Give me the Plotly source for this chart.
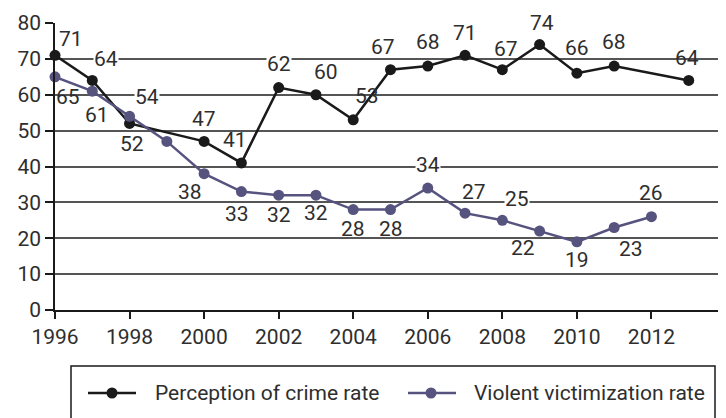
import plotly.graph_objects as go

# ---- data ----
perc_years = [1996, 1997, 1998, 2000, 2001, 2002, 2003, 2004, 2005, 2006, 2007, 2008, 2009, 2010, 2011, 2013]
perc_vals = [71, 64, 52, 47, 41, 62, 60, 53, 67, 68, 71, 67, 74, 66, 68, 64]
viol_years = [1996, 1997, 1998, 1999, 2000, 2001, 2002, 2003, 2004, 2005, 2006, 2007, 2008, 2009, 2010, 2011, 2012]
viol_vals = [65, 61, 54, 47, 38, 33, 32, 32, 28, 28, 34, 27, 25, 22, 19, 23, 26]
viol_labels = ["65", "61", "54", "", "38", "33", "32", "32", "28", "28", "34", "27", "25", "22", "19", "23", "26"]
x_ticks = [1996, 1998, 2000, 2002, 2004, 2006, 2008, 2010, 2012]
y_ticks = [0, 10, 20, 30, 40, 50, 60, 70, 80]
series_names = ["Perception of crime rate", "Violent victimization rate"]

# label offsets (pixels) relative to each point, and whether the label has a white backing
perc_off = [(16, -16), (14, -21), (2, 21), (0, -22), (-6, -23), (0, -24), (10, -23), (14, -24),
            (-8, -23), (0, -24), (0, -22), (4, -21), (2, -22), (0, -25), (0, -24), (-2, -22)]
perc_bg = [0, 1, 0, 0, 0, 1, 0, 0, 0, 0, 0, 0, 1, 0, 0, 0]
viol_off = [(13, 20), (5, 24), (17, -19), (0, 0), (-14, 18), (-4, 22), (0, 20), (0, 18), (0, 19),
            (0, 19), (0, -23), (9, -21), (15, -21), (-17, 17), (0, 18), (17, 22), (0, -24)]
viol_bg = [0, 0, 1, 0, 0, 0, 0, 0, 0, 0, 1, 0, 1, 0, 0, 0, 0]

BLACK = "#1a1a1a"
PURPLE = "#56537f"
TXT = "#2e2e2e"
FONT = "Roboto"

fig = go.Figure()
fig.add_trace(go.Scatter(x=perc_years, y=perc_vals, mode="lines+markers", name=series_names[0],
                         line=dict(color=BLACK, width=2.5), marker=dict(size=11, color=BLACK),
                         cliponaxis=False, showlegend=False))
fig.add_trace(go.Scatter(x=viol_years, y=viol_vals, mode="lines+markers", name=series_names[1],
                         line=dict(color=PURPLE, width=2.5), marker=dict(size=11, color=PURPLE),
                         cliponaxis=False, showlegend=False))

annotations = []
for x, v, (dx, dy), bg in zip(perc_years, perc_vals, perc_off, perc_bg):
    annotations.append(dict(x=x, y=v, xref="x", yref="y", text=str(v), showarrow=False,
                            xshift=dx, yshift=-dy, borderpad=0,
                            bgcolor="white" if bg else "rgba(0,0,0,0)",
                            font=dict(family=FONT, size=21, color=TXT)))
for x, v, lab, (dx, dy), bg in zip(viol_years, viol_vals, viol_labels, viol_off, viol_bg):
    if lab:
        annotations.append(dict(x=x, y=v, xref="x", yref="y", text=lab, showarrow=False,
                                xshift=dx, yshift=-dy, borderpad=0,
                                bgcolor="white" if bg else "rgba(0,0,0,0)",
                                font=dict(family=FONT, size=21, color=TXT)))

# page has an 8px body margin; figure is sized/positioned to compensate
OFF = 8
L, T_AX, W_PLOT, H_PLOT = 55, 310, 671, 287
def px(x):
    return (x - L) / W_PLOT
def py(y):
    return (T_AX - y) / H_PLOT

shapes = [
    dict(type="rect", xref="paper", yref="paper", x0=px(71), x1=px(715), y0=py(366), y1=py(430),
         line=dict(color=BLACK, width=1.5), fillcolor="rgba(0,0,0,0)"),
]
leg_y = 393
for (lx0, lx1, mx, tx), col, name in zip([(88, 136, 112, 153), (408, 456, 431, 472)],
                                         [BLACK, PURPLE], series_names):
    shapes.append(dict(type="line", xref="paper", yref="paper", x0=px(lx0), x1=px(lx1),
                       y0=py(leg_y), y1=py(leg_y), line=dict(color=col, width=2.5)))
    shapes.append(dict(type="circle", xref="paper", yref="paper", x0=px(mx - 5.5), x1=px(mx + 5.5),
                       y0=py(leg_y - 5.5), y1=py(leg_y + 5.5), fillcolor=col, line=dict(color=col, width=0)))
    annotations.append(dict(x=px(tx), y=py(leg_y), xref="paper", yref="paper", text=name,
                            showarrow=False, xanchor="left", yanchor="middle",
                            font=dict(family=FONT, size=21, color=TXT)))

fig.update_layout(
    width=726 - OFF, height=418 - OFF,
    margin=dict(l=L - OFF, r=0, t=23 - OFF, b=108),
    paper_bgcolor="white", plot_bgcolor="white",
    font=dict(family=FONT, size=21, color=TXT),
    showlegend=False,
    xaxis=dict(range=[1996, 2014], tickvals=x_ticks, ticktext=[str(t) for t in x_ticks],
               showgrid=False, zeroline=False, showline=True, linecolor=BLACK, linewidth=1.5,
               ticks="outside", ticklen=7, tickcolor=BLACK, tickwidth=1.5,
               tickfont=dict(family=FONT, size=21, color=TXT)),
    yaxis=dict(range=[0, 80], tickvals=y_ticks, showgrid=True, gridcolor="#555555", gridwidth=1.5,
               zeroline=False, showline=True, linecolor=BLACK, linewidth=1.5,
               ticks="outside", ticklen=8, tickcolor=BLACK, tickwidth=1.5,
               tickfont=dict(family=FONT, size=21, color=TXT)),
    annotations=annotations,
    shapes=shapes,
)

fig.write_html("out.html")
